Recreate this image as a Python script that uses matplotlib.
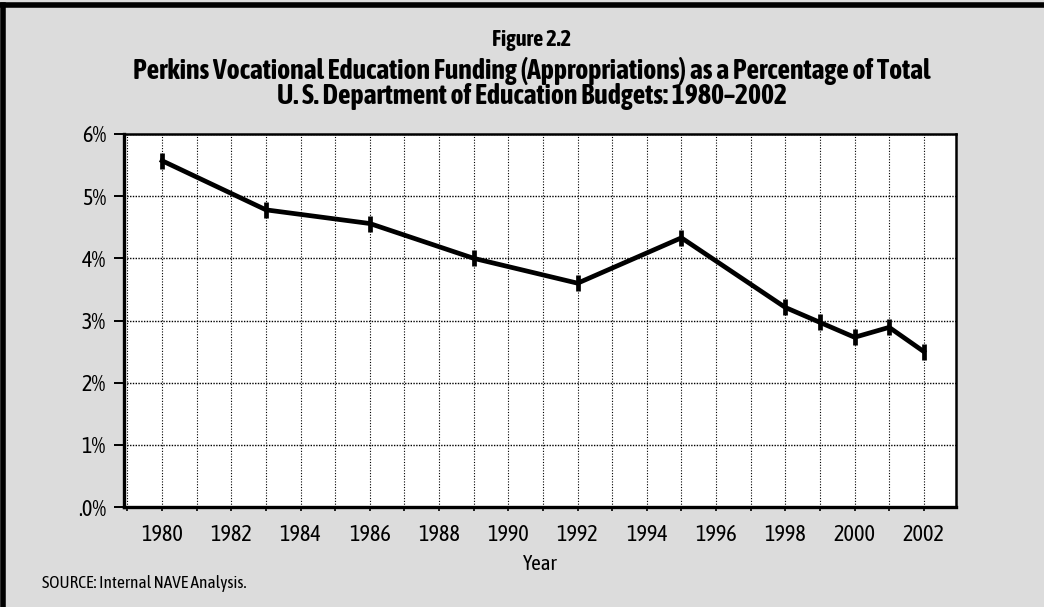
import numpy as np
import matplotlib.pyplot as plt
from matplotlib.lines import Line2D

# dane
years = [1980, 1983, 1986, 1989, 1992, 1995, 1998, 1999, 2000, 2001, 2002]
share = [5.57, 4.78, 4.56, 4.00, 3.60, 4.33, 3.21, 2.97, 2.73, 2.89, 2.50]
xtick_years = list(range(1980, 2003, 2))
ytick_vals = [0, 1, 2, 3, 4, 5, 6]
ytick_labels = ['.0%', '1%', '2%', '3%', '4%', '5%', '6%']

plt.rcParams['font.family'] = ['Asap Condensed', 'Archivo Narrow', 'Liberation Sans', 'DejaVu Sans']

fig = plt.figure(figsize=(10.44, 6.07), dpi=100)
fig.patch.set_facecolor('#dcdcdc')
ax = fig.add_axes([124/1044, 1-507/607, 832/1044, 373/607])
ax.set_facecolor('white')

ax.plot(years, share, color='black', lw=3.4, marker='|', ms=11, mew=3.4,
        solid_joinstyle='round', zorder=3)

ax.set_xlim(1978.9, 2002.93)
ax.set_ylim(0, 6)
ax.set_xticks(xtick_years)
ax.set_xticklabels([str(y) for y in xtick_years], fontsize=16)
ax.set_xticks(range(1979, 2003), minor=True)
ax.set_yticks(ytick_vals)
ax.set_yticklabels(ytick_labels, fontsize=16)
ax.tick_params(axis='x', which='both', length=3, width=1.2, pad=9)
ax.tick_params(axis='y', length=7, width=1.4, pad=6)

ax.grid(True, which='both', axis='x', color='black', ls=(0, (1, 1.5)), lw=0.8)
ax.grid(True, which='major', axis='y', color='black', ls=(0, (1, 1)), lw=1.0)
ax.set_axisbelow(True)

for side in ['left', 'bottom']:
    ax.spines[side].set_linewidth(2.4)
for side in ['top', 'right']:
    ax.spines[side].set_linewidth(1.8)

ax.set_xlabel('Year', fontsize=15, labelpad=6)

fig.text(532/1044, 1-40/607, 'Figure 2.2', ha='center', va='center', fontsize=16, fontweight='bold')
fig.text(532/1044, 1-71/607, 'Perkins Vocational Education Funding (Appropriations) as a Percentage of Total',
         ha='center', va='center', fontsize=20, fontweight='bold')
fig.text(532/1044, 1-97/607, 'U. S. Department of Education Budgets: 1980\u20132002',
         ha='center', va='center', fontsize=20, fontweight='bold')
fig.text(42/1044, 1-583/607, 'SOURCE: Internal NAVE Analysis.', ha='left', va='center', fontsize=12.5)

# ramka (lewa i górna krawędź)
fig.add_artist(Line2D([0.003, 0.003], [0, 0.992], transform=fig.transFigure, color='black', lw=4))
fig.add_artist(Line2D([0, 1], [0.992, 0.992], transform=fig.transFigure, color='black', lw=4))

fig.savefig('out.png', dpi=100, facecolor=fig.get_facecolor())
